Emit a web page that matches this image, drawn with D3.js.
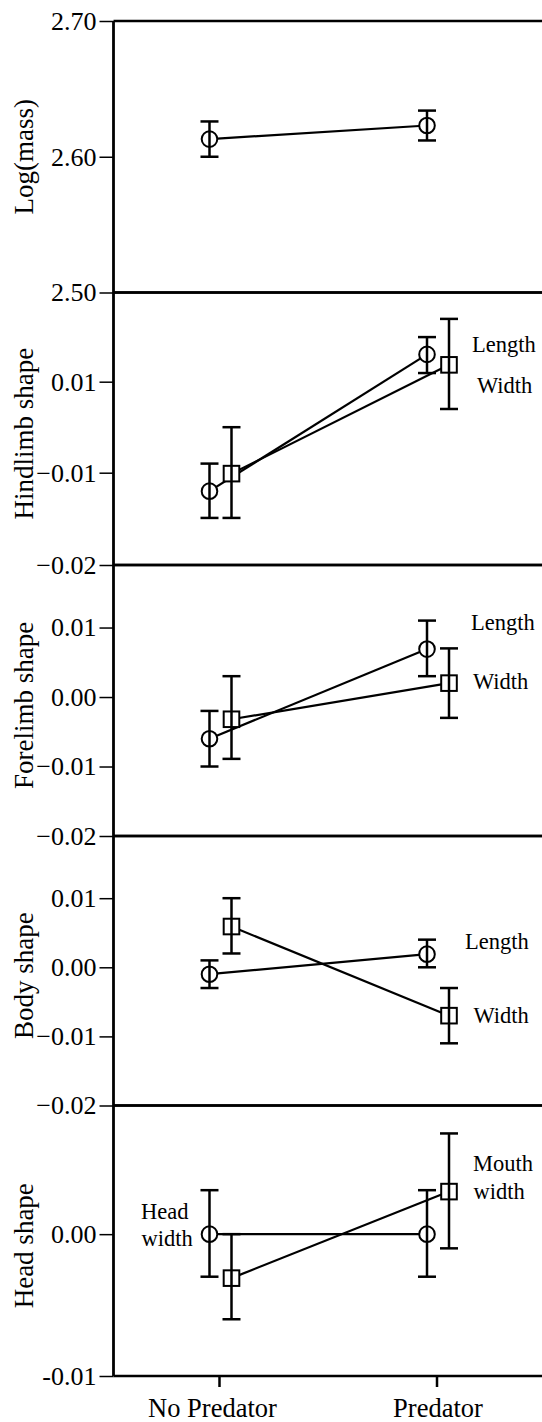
<!DOCTYPE html>
<html><head><meta charset="utf-8">
<script src="https://cdn.jsdelivr.net/npm/d3@7"></script>
<style>html,body{margin:0;padding:0;background:#fff;} svg{display:block;} svg text{font-family:"Liberation Serif",serif;}</style>
</head><body>
<svg id="chart" width="542" height="1422"></svg>
<script>
// ---------------- DATA ----------------
const categories = ["No Predator", "Predator"];

// Log(mass)
const massMean = [2.613, 2.623];
const massLo   = [2.600, 2.612];
const massHi   = [2.626, 2.634];
const massTicks = [2.50, 2.60, 2.70];

// Hindlimb shape
const hindLengthMean = [-0.0120, 0.0160];
const hindLengthLo   = [-0.0149, 0.0119];
const hindLengthHi   = [-0.0080, 0.0198];
const hindWidthMean  = [-0.0101, 0.0137];
const hindWidthLo    = [-0.0149, 0.0040];
const hindWidthHi    = [0.0000, 0.0238];
const hindTicks = [0.01, -0.01, -0.02];

// Forelimb shape
const foreLengthMean = [-0.0060, 0.0069];
const foreLengthLo   = [-0.0100, 0.0030];
const foreLengthHi   = [-0.0020, 0.0110];
const foreWidthMean  = [-0.0032, 0.0020];
const foreWidthLo    = [-0.0089, -0.0030];
const foreWidthHi    = [0.0030, 0.0070];
const foreTicks = [0.01, 0.00, -0.01, -0.02];

// Body shape
const bodyLengthMean = [-0.0010, 0.0019];
const bodyLengthLo   = [-0.0030, 0.0000];
const bodyLengthHi   = [0.0010, 0.0040];
const bodyWidthMean  = [0.0059, -0.0070];
const bodyWidthLo    = [0.0020, -0.0110];
const bodyWidthHi    = [0.0100, -0.0030];
const bodyTicks = [0.01, 0.00, -0.01, -0.02];

// Head shape
const headWidthMean  = [0.0000, 0.0000];
const headWidthLo    = [-0.0030, -0.0030];
const headWidthHi    = [0.0031, 0.0031];
const mouthWidthMean = [-0.0031, 0.0030];
const mouthWidthLo   = [-0.0060, -0.0010];
const mouthWidthHi   = [0.0000, 0.0071];
const headTicks = [0.00, -0.01];

// ---------------- LAYOUT ----------------
const FONT = '"Liberation Serif", serif';
const axisX = 113.5, rightX = 542;
const svg = d3.select("#chart");

const minus = v => (v < 0 ? "\u2212" : "") + Math.abs(v).toFixed(2);

const panels = [
  { title: "Log(mass)", domain: [2.50, 2.70], range: [292.5, 21], ticks: massTicks,
    fmt: v => v.toFixed(2), titleDy: 0,
    series: [{ shape: "circle", mean: massMean, lo: massLo, hi: massHi }],
    labels: [] },
  { title: "Hindlimb shape", domain: [-0.02, -0.01, 0.0296], range: [565, 472.7, 292.5], ticks: hindTicks,
    fmt: minus, titleDy: 5,
    series: [
      { shape: "circle", mean: hindLengthMean, lo: hindLengthLo, hi: hindLengthHi },
      { shape: "square", mean: hindWidthMean, lo: hindWidthLo, hi: hindWidthHi }],
    labels: [{ t: "Length", x: 472, y: 352 }, { t: "Width", x: 477, y: 392.5 }] },
  { title: "Forelimb shape", domain: [-0.02, 0.019], range: [836, 565], ticks: foreTicks,
    fmt: minus, titleDy: 5,
    series: [
      { shape: "circle", mean: foreLengthMean, lo: foreLengthLo, hi: foreLengthHi },
      { shape: "square", mean: foreWidthMean, lo: foreWidthLo, hi: foreWidthHi }],
    labels: [{ t: "Length", x: 471, y: 630 }, { t: "Width", x: 473, y: 688.5 }] },
  { title: "Body shape", domain: [-0.02, 0.019], range: [1105.5, 836], ticks: bodyTicks,
    fmt: minus, titleDy: 5,
    series: [
      { shape: "circle", mean: bodyLengthMean, lo: bodyLengthLo, hi: bodyLengthHi },
      { shape: "square", mean: bodyWidthMean, lo: bodyWidthLo, hi: bodyWidthHi }],
    labels: [{ t: "Length", x: 465, y: 948.5 }, { t: "Width", x: 473.5, y: 1023 }] },
  { title: "Head shape", domain: [-0.01, 0.00907], range: [1376, 1105.5], ticks: headTicks,
    fmt: v => (v < 0 ? "-" : "") + Math.abs(v).toFixed(2), titleDy: 5,
    series: [
      { shape: "circle", mean: headWidthMean, lo: headWidthLo, hi: headWidthHi },
      { shape: "square", mean: mouthWidthMean, lo: mouthWidthLo, hi: mouthWidthHi }],
    labels: [{ t: "Head", x: 141, y: 1219 }, { t: "width", x: 141.5, y: 1246 },
             { t: "Mouth", x: 473, y: 1171 }, { t: "width", x: 473.5, y: 1198.5 }] }
];

const x = d3.scalePoint().domain(categories).range([axisX, rightX]).padding(0.485);
const dodge = { circle: -9.5, square: 12.5 };

panels.forEach((p, pi) => {
  const y = d3.scaleLinear().domain(p.domain).range(p.range);
  const g = svg.append("g");

  // y axis ticks + labels
  const ax = g.append("g").attr("transform", `translate(${axisX},0)`)
    .call(d3.axisLeft(y).tickValues(p.ticks).tickFormat(p.fmt).tickSize(14).tickPadding(3));
  ax.attr("font-family", FONT).attr("font-size", 26);
  ax.select(".domain").remove();
  ax.selectAll(".tick line").attr("stroke", "#000").attr("stroke-width", 1.5);
  ax.selectAll(".tick text").attr("fill", "#000").style("font-family", FONT).style("font-size", "26px");

  // horizontal panel boundary lines
  const yTop = p.range[p.range.length - 1], yBot = p.range[0];
  [yTop, yBot].forEach(yy => {
    g.append("line").attr("x1", axisX).attr("x2", rightX).attr("y1", yy).attr("y2", yy)
      .attr("stroke", "#000").attr("stroke-width", 2.5);
  });

  // axis title
  const cy = (yTop + yBot) / 2 + p.titleDy;
  g.append("text").attr("transform", `translate(33,${cy}) rotate(-90)`)
    .attr("text-anchor", "middle").style("font-family", FONT).style("font-size", "27px")
    .attr("fill", "#000").text(p.title);

  // connecting lines
  const line = d3.line().x(d => d.x).y(d => y(d.v));
  p.series.forEach(s => {
    const pts = categories.map((c, i) => ({ x: x(c) + dodge[s.shape], v: s.mean[i] }));
    g.append("path").attr("d", line(pts)).attr("fill", "none")
      .attr("stroke", "#000").attr("stroke-width", 2.2);
  });

  // markers
  p.series.forEach(s => {
    categories.forEach((c, i) => {
      const cx = x(c) + dodge[s.shape], yy = y(s.mean[i]);
      if (s.shape === "circle") {
        g.append("circle").attr("cx", cx).attr("cy", yy).attr("r", 7.8)
          .attr("fill", "#fff").attr("stroke", "#000").attr("stroke-width", 2);
      } else {
        g.append("rect").attr("x", cx - 7.8).attr("y", yy - 7.8).attr("width", 15.6).attr("height", 15.6)
          .attr("fill", "#fff").attr("stroke", "#000").attr("stroke-width", 2);
      }
    });
  });

  // error bars
  p.series.forEach(s => {
    categories.forEach((c, i) => {
      const cx = x(c) + dodge[s.shape];
      const y1 = y(s.lo[i]), y2 = y(s.hi[i]);
      g.append("line").attr("x1", cx).attr("x2", cx).attr("y1", y1).attr("y2", y2)
        .attr("stroke", "#000").attr("stroke-width", 2.5);
      [y1, y2].forEach(yy => g.append("line").attr("x1", cx - 9).attr("x2", cx + 9)
        .attr("y1", yy).attr("y2", yy).attr("stroke", "#000").attr("stroke-width", 2.5));
    });
  });

  // annotations
  p.labels.forEach(l => {
    g.append("text").attr("x", l.x).attr("y", l.y).style("font-family", FONT)
      .style("font-size", "22.5px").attr("fill", "#000").text(l.t);
  });
});

// vertical y-axis line
svg.append("line").attr("x1", axisX).attr("x2", axisX).attr("y1", 21).attr("y2", 1376)
  .attr("stroke", "#000").attr("stroke-width", 2.8);

// x axis (bottom)
const xa = svg.append("g").attr("transform", "translate(0,1375)")
  .call(d3.axisBottom(x).tickSize(12).tickPadding(30));
xa.attr("font-family", FONT).attr("font-size", 26.5);
xa.select(".domain").remove();
xa.selectAll(".tick line").attr("stroke", "#000").attr("stroke-width", 2.5);
xa.selectAll(".tick text").attr("fill", "#000").attr("dy", null).attr("y", 42)
  .attr("dx", (d, i) => (i === 0 ? -7 : 1))
  .style("font-family", FONT).style("font-size", "26.5px");
</script></body></html>
